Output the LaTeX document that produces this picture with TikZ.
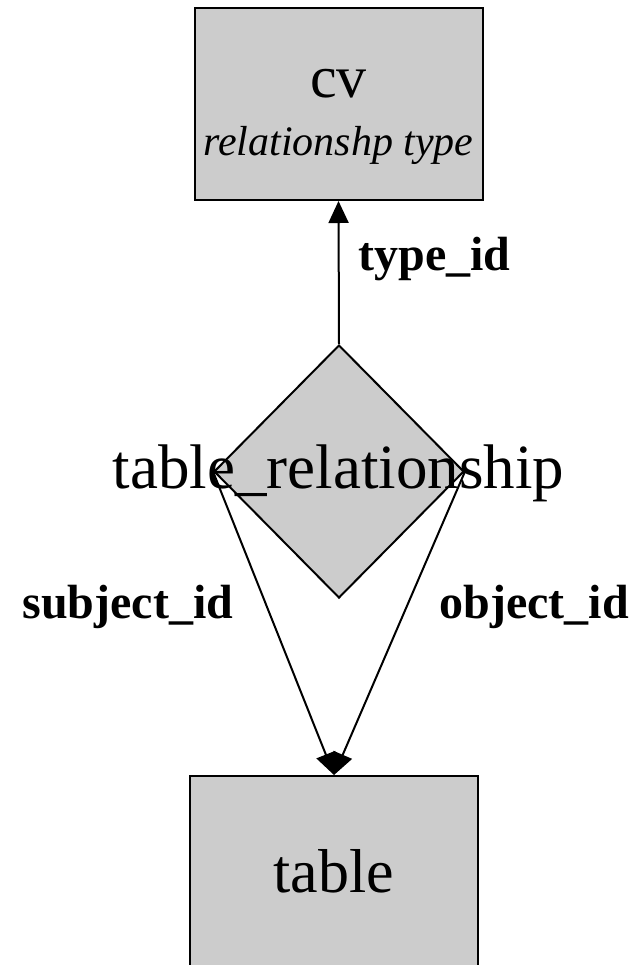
\documentclass[tikz,border=0pt]{standalone}
\usepackage{fontspec}
\setmainfont{Liberation Serif}
\usetikzlibrary{arrows.meta}
\usetikzlibrary{shapes.geometric}
\definecolor{entgray}{gray}{0.8}
\tikzset{
 entity/.style={draw=black, fill=entgray, line width=1pt, minimum width=144pt, minimum height=96pt, inner sep=0},
 relshape/.style={diamond, draw=black, fill=entgray, line width=1pt, minimum width=125pt, minimum height=126.5pt, inner sep=0},
 fk/.style={font=\fontsize{24}{28}\selectfont\bfseries, inner sep=0},
 link/.style={line width=1pt, -{Triangle[length=11pt,width=10pt]}}
}
\begin{document}
\begin{tikzpicture}[x=.5pt, y=-.5pt]
\useasboundingbox (0,0) rectangle (635,965);
\clip (0,0) rectangle (635,965);
\node[entity] (cv) at (338.5,104) {};
\node[anchor=base, font=\fontsize{30}{34}\selectfont] (cvname) at (338.5,97) {cv};
\node[anchor=base, font=\fontsize{21}{25}\selectfont\itshape] (cvtype) at (338.5,155) {relationshp type};
\node[relshape] (rel) at (339,471.5) {};
\node[anchor=base, font=\fontsize{31.5}{36}\selectfont] (relname) at (338.5,488) {table\_relationship};
\node[entity] (tbl) at (334,872) {};
\node[anchor=base, font=\fontsize{31}{36}\selectfont] (tblname) at (334,892) {table};
\draw[link] (rel.north) -- (cv.south);
\draw[link] (rel.west) -- (tbl.north);
\draw[link] (rel.east) -- (tbl.north);
\node[fk, anchor=base west] (typelbl) at (358,270) {type\_id};
\node[fk, anchor=base west] (subjlbl) at (22,618) {subject\_id};
\node[fk, anchor=base west] (objlbl) at (439,618) {object\_id};
\end{tikzpicture}
\end{document}
